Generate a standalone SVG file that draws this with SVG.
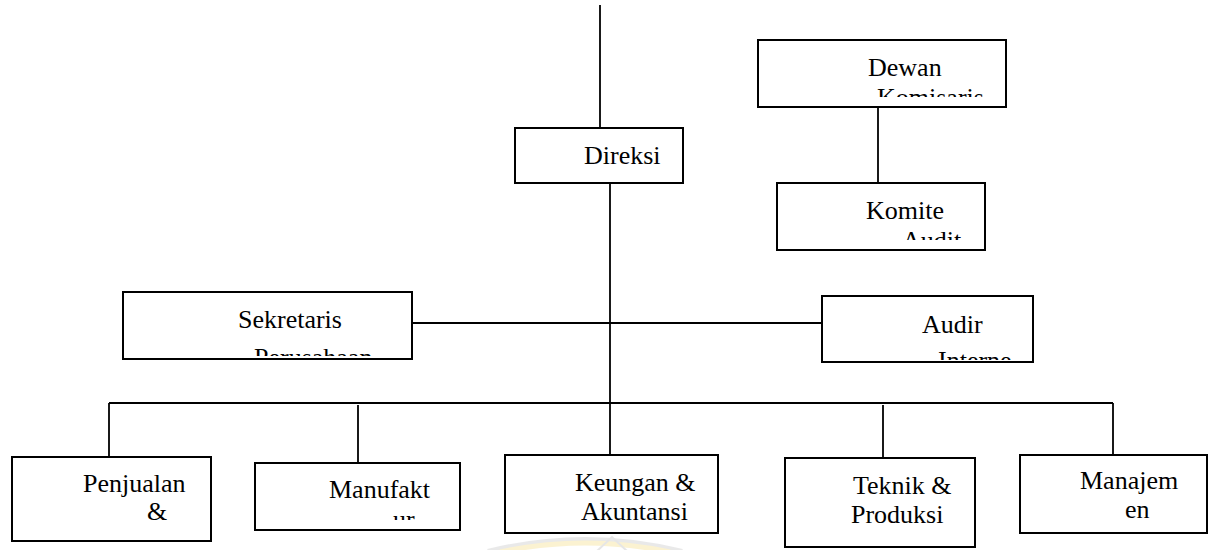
<svg xmlns="http://www.w3.org/2000/svg" width="1209" height="550" viewBox="0 0 1209 550">
  <style>
    .box { fill: #ffffff; stroke: #000000; stroke-width: 2; }
    .lbl { font-family: 'Liberation Serif', 'Times New Roman', serif; font-size: 26px; fill: #000000; }
    .wire { fill: none; stroke: #000000; stroke-width: 1.8; }
  </style>
  <defs>
    <!-- inner text areas: the second line of some labels is cut off by the box -->
    <clipPath id="clip-dewan"><rect x="760" y="42" width="244" height="55"/></clipPath>
    <clipPath id="clip-komite"><rect x="779" y="185" width="204" height="55"/></clipPath>
    <clipPath id="clip-sekretaris"><rect x="125" y="294" width="285" height="62"/></clipPath>
    <clipPath id="clip-audir"><rect x="824" y="298" width="207" height="62"/></clipPath>
    <clipPath id="clip-manufaktur"><rect x="257" y="465" width="201" height="55"/></clipPath>
  </defs>

  <rect width="1209" height="550" fill="#ffffff"/>

  <!-- faint emblem at the lower edge -->
  <g id="emblem" opacity="0.3">
    <path d="M488 552 Q585 528 682 552" fill="none" stroke="#b8b8b8" stroke-width="6"/>
    <path d="M500 552 Q585 534 670 552" fill="none" stroke="#f2d56a" stroke-width="5"/>
    <path d="M596 552 L612 537 L628 552" fill="none" stroke="#b0b0b0" stroke-width="2"/>
  </g>

  <g id="connectors">
    <line class="wire" x1="600" y1="5" x2="600" y2="128"/>
    <line class="wire" x1="878" y1="107" x2="878" y2="183"/>
    <line class="wire" x1="610" y1="183" x2="610" y2="455"/>
    <line class="wire" x1="412" y1="323" x2="822" y2="323"/>
    <line class="wire" x1="109" y1="403" x2="1113" y2="403"/>
    <line class="wire" x1="109" y1="403" x2="109" y2="457"/>
    <line class="wire" x1="358" y1="405" x2="358" y2="463"/>
    <line class="wire" x1="883" y1="405" x2="883" y2="458"/>
    <line class="wire" x1="1113" y1="403" x2="1113" y2="455"/>
  </g>

  <g id="direksi">
    <rect class="box" x="515" y="128" width="168" height="55"/>
    <text class="lbl" x="584" y="164">Direksi</text>
  </g>

  <g id="dewan-komisaris">
    <rect class="box" x="758" y="40" width="248" height="67"/>
    <g clip-path="url(#clip-dewan)">
      <text class="lbl" x="868" y="76">Dewan</text>
      <text class="lbl" x="877" y="106">Komisaris</text>
    </g>
  </g>

  <g id="komite-audit">
    <rect class="box" x="777" y="183" width="208" height="67"/>
    <g clip-path="url(#clip-komite)">
      <text class="lbl" x="866" y="219">Komite</text>
      <text class="lbl" x="902" y="249">Audit</text>
    </g>
  </g>

  <g id="sekretaris-perusahaan">
    <rect class="box" x="123" y="292" width="289" height="67"/>
    <g clip-path="url(#clip-sekretaris)">
      <text class="lbl" x="238" y="328">Sekretaris</text>
      <text class="lbl" x="254" y="366">Perusahaan</text>
    </g>
  </g>

  <g id="audir-interne">
    <rect class="box" x="822" y="296" width="211" height="66"/>
    <g clip-path="url(#clip-audir)">
      <text class="lbl" x="922" y="333">Audir</text>
      <text class="lbl" x="938" y="369">Interne</text>
    </g>
  </g>

  <g id="penjualan">
    <rect class="box" x="12" y="457" width="199" height="84"/>
    <text class="lbl" x="83" y="492">Penjualan</text>
    <text class="lbl" x="147" y="520">&amp;</text>
  </g>

  <g id="manufaktur">
    <rect class="box" x="255" y="463" width="205" height="67"/>
    <g clip-path="url(#clip-manufaktur)">
      <text class="lbl" x="329" y="498">Manufakt</text>
      <text class="lbl" x="393" y="528">ur</text>
    </g>
  </g>

  <g id="keuangan">
    <rect class="box" x="505" y="455" width="213" height="78"/>
    <text class="lbl" x="575" y="491">Keungan &amp;</text>
    <text class="lbl" x="581" y="520">Akuntansi</text>
  </g>

  <g id="teknik">
    <rect class="box" x="785" y="458" width="190" height="89"/>
    <text class="lbl" x="853" y="494">Teknik &amp;</text>
    <text class="lbl" x="851" y="523">Produksi</text>
  </g>

  <g id="manajemen">
    <rect class="box" x="1020" y="455" width="187" height="78"/>
    <text class="lbl" x="1080" y="489">Manajem</text>
    <text class="lbl" x="1125" y="518">en</text>
  </g>
</svg>
